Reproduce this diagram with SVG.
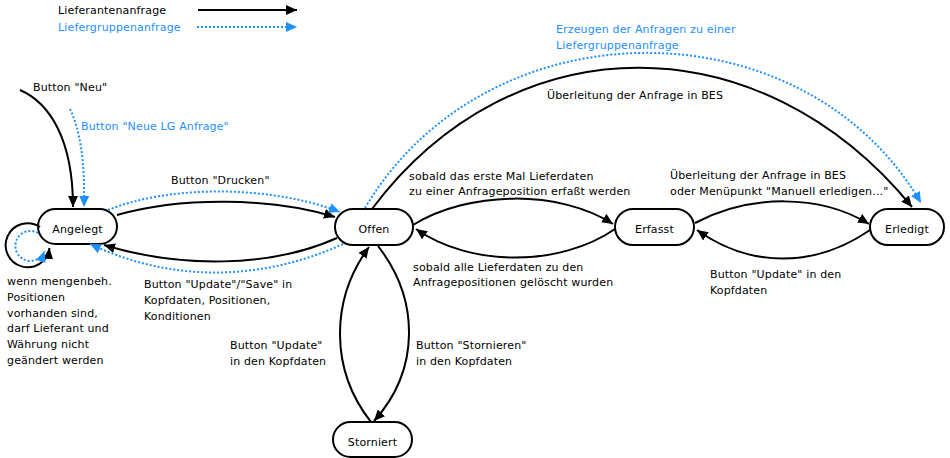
<svg xmlns="http://www.w3.org/2000/svg" width="950" height="458" viewBox="0 0 950 458">
<style>
text{font-family:"DejaVu Sans",Verdana,sans-serif;font-size:11px;fill:#000;letter-spacing:0.15px}
.b{fill:#1e90ff}
.n rect{fill:#fff;stroke:#000;stroke-width:2}
.n text{text-anchor:middle}
.k{fill:none;stroke:#000;stroke-width:2}
.d{fill:none;stroke:#1e90ff;stroke-width:2;stroke-dasharray:2 2}
</style>
<defs>
<marker id="ak" markerUnits="userSpaceOnUse" markerWidth="12" markerHeight="10" refX="11" refY="5" orient="auto"><path d="M0,0 L11,5 L0,10 z" fill="#000"/></marker>
<marker id="ab" markerUnits="userSpaceOnUse" markerWidth="12" markerHeight="10" refX="11" refY="5" orient="auto"><path d="M0,0 L11,5 L0,10 z" fill="#1e90ff"/></marker>
</defs>
<g id="legend">
<text x="58" y="14">Lieferantenanfrage</text>
<text x="58" y="31" class="b">Liefergruppenanfrage</text>
<path class="k" d="M198 10 L297 10" marker-end="url(#ak)"/>
<path class="d" d="M197 27 L297 27" marker-end="url(#ab)"/>
</g>
<g id="nodes">
<g id="angelegt" class="n"><rect x="38" y="209" width="79" height="35" rx="17.5"/><text x="77.5" y="233">Angelegt</text></g>
<g id="offen" class="n"><rect x="335" y="209" width="78" height="36" rx="18"/><text x="374" y="233">Offen</text></g>
<g id="erfasst" class="n"><rect x="615" y="209" width="79" height="36" rx="18"/><text x="654.5" y="233">Erfasst</text></g>
<g id="erledigt" class="n"><rect x="870" y="209" width="74" height="36" rx="18"/><text x="907" y="233">Erledigt</text></g>
<g id="storniert" class="n"><rect x="333" y="422" width="79" height="35" rx="17.5"/><text x="372.5" y="446">Storniert</text></g>
</g>
<g id="connectors">
<path class="k" d="M20 90 C50 103 73 140 73 207" marker-end="url(#ak)"/>
<path class="d" d="M70 109 C80 130 85 160 84 207" marker-end="url(#ab)"/>
<path class="k" d="M40 227 A22 22 0 1 0 49.5 248" marker-end="url(#ak)"/>
<path class="d" d="M38 233 A15 15 0 1 0 44.5 251" marker-end="url(#ab)"/>
<path class="k" d="M117 215 C180 197 270 197 335 217" marker-end="url(#ak)"/>
<path class="d" d="M108 210 C170 185 270 185 340 212" marker-end="url(#ab)"/>
<path class="k" d="M337 238 C270 268 180 268 104 245" marker-end="url(#ak)"/>
<path class="d" d="M343 244 C260 282 170 282 90 244" marker-end="url(#ab)"/>
<path class="k" d="M372 209 C513 21 760 21 912 207" marker-end="url(#ak)"/>
<path class="d" d="M365 208 C487 2 804 2 921 203" marker-end="url(#ab)"/>
<path class="k" d="M413 225 C470 190 560 190 613 224" marker-end="url(#ak)"/>
<path class="k" d="M615 229 C560 267 470 267 416 229" marker-end="url(#ak)"/>
<path class="k" d="M695 223 C750 194 820 194 869 224" marker-end="url(#ak)"/>
<path class="k" d="M870 230 C815 268 750 268 697 230" marker-end="url(#ak)"/>
<path class="k" d="M378 246 C420 300 420 370 374 421" marker-end="url(#ak)"/>
<path class="k" d="M371 422 C330 370 330 300 369 247" marker-end="url(#ak)"/>
</g>
<g id="labels">
<text x="33" y="91">Button "Neu"</text>
<text x="81" y="130" class="b">Button "Neue LG Anfrage"</text>
<text x="171" y="184">Button "Drucken"</text>
<text x="144" y="288">Button "Update"/"Save" in</text>
<text x="144" y="304">Kopfdaten, Positionen,</text>
<text x="144" y="320">Konditionen</text>
<text x="7" y="285">wenn mengenbeh.</text>
<text x="7" y="301">Positionen</text>
<text x="7" y="317">vorhanden sind,</text>
<text x="7" y="332">darf Lieferant und</text>
<text x="7" y="348">Währung nicht</text>
<text x="7" y="364">geändert werden</text>
<text x="556" y="33" class="b">Erzeugen der Anfragen zu einer</text>
<text x="556" y="49" class="b">Liefergruppenanfrage</text>
<text x="547" y="99">Überleitung der Anfrage in BES</text>
<text x="409" y="180">sobald das erste Mal Lieferdaten</text>
<text x="409" y="195">zu einer Anfrageposition erfaßt werden</text>
<text x="670" y="179">Überleitung der Anfrage in BES</text>
<text x="670" y="195">oder Menüpunkt "Manuell erledigen..."</text>
<text x="413" y="271">sobald alle Lieferdaten zu den</text>
<text x="413" y="286">Anfragepositionen gelöscht wurden</text>
<text x="710" y="278">Button "Update" in den</text>
<text x="710" y="294">Kopfdaten</text>
<text x="230" y="349">Button "Update"</text>
<text x="230" y="365">in den Kopfdaten</text>
<text x="416" y="349">Button "Stornieren"</text>
<text x="416" y="365">in den Kopfdaten</text>
</g>
</svg>
